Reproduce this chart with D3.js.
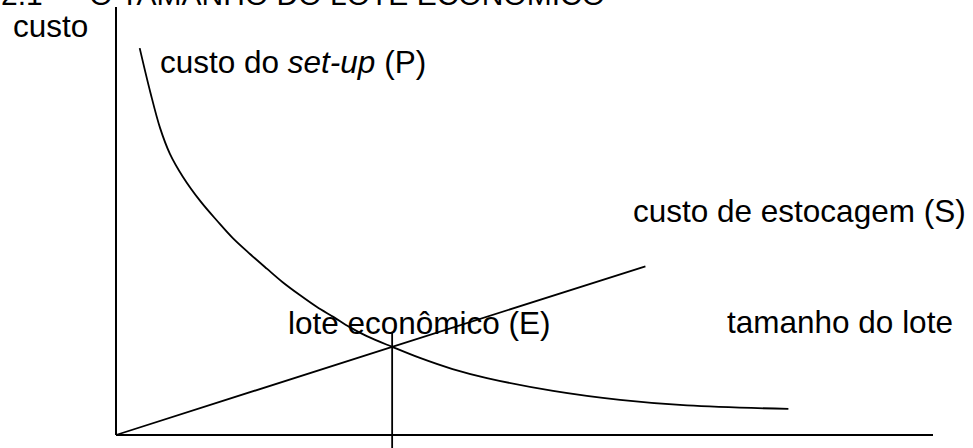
<!DOCTYPE html>
<html>
<head>
<meta charset="utf-8">
<script src="https://cdn.jsdelivr.net/npm/d3@7"></script>
<style>
  body { margin: 0; background: #fff; }
  svg { display: block; }
  text { font-family: "Liberation Sans", Arial, sans-serif; font-size: 31.5px; fill: #000; }
</style>
</head>
<body>
<div id="chart"></div>
<script>
// custo do set-up (P): lot size vs cost
const setupLot  = [2.9, 4.2, 5.4, 6.6, 8.2, 10.3, 12.4, 14.3, 16.4, 18.5, 20.4, 22.5, 24.6, 26.6, 28.6, 30.7, 33.8, 37.2, 41.2, 45.4, 53.5, 61.7, 69.9, 82.3];
const setupCost = [90.4, 80.1, 71.7, 65.7, 60.3, 54.7, 50.0, 46.0, 42.3, 38.8, 35.7, 32.7, 29.9, 27.6, 25.2, 23.1, 20.6, 18.0, 15.4, 13.3, 10.3, 8.2, 6.9, 6.1];
// custo de estocagem (S): straight line from origin
const storageLot  = [0, 33.8, 64.8];
const storageCost = [0, 20.6, 39.4];
// lote econômico (E)
const econLot = 33.8;
const econCost = 20.6;

const title = "2.1 — O TAMANHO DO LOTE ECONÔMICO";
const labels = {
    yAxis: "custo",
    xAxis: "tamanho do lote",
    storage: "custo de estocagem (S)",
    econ: "lote econômico (E)"
};

const width = 973, height = 448;

const svg = d3.select("#chart")
    .append("svg")
    .attr("width", width)
    .attr("height", height);

const xScale = d3.scaleLinear()
    .domain([0, 100])
    .range([116, 933]);
const yScale = d3.scaleLinear()
    .domain([0, 100])
    .range([435, 7]);

// axes as plain lines (no ticks in the original)
svg.append("line")
    .attr("x1", xScale(0)).attr("x2", xScale(0))
    .attr("y1", yScale(0)).attr("y2", yScale(100))
    .attr("stroke", "#000").attr("stroke-width", 2);
svg.append("line")
    .attr("x1", xScale(0)).attr("x2", xScale(100))
    .attr("y1", yScale(0)).attr("y2", yScale(0))
    .attr("stroke", "#000").attr("stroke-width", 2);

// set-up curve
svg.append("path")
    .datum(setupLot.map((x, i) => [x, setupCost[i]]))
    .attr("d", d3.line()
        .x(d => xScale(d[0]))
        .y(d => yScale(d[1]))
        .curve(d3.curveCatmullRom.alpha(0.5)))
    .attr("fill", "none")
    .attr("stroke", "#000")
    .attr("stroke-width", 1.8);

// storage line
svg.append("path")
    .datum(storageLot.map((x, i) => [x, storageCost[i]]))
    .attr("d", d3.line().x(d => xScale(d[0])).y(d => yScale(d[1])))
    .attr("fill", "none")
    .attr("stroke", "#000")
    .attr("stroke-width", 1.8);

// vertical marker at the economic lot
svg.append("line")
    .attr("x1", xScale(econLot)).attr("x2", xScale(econLot))
    .attr("y1", yScale(econCost + 3.5)).attr("y2", yScale(-3.5))
    .attr("stroke", "#000").attr("stroke-width", 1.8);

// texts
svg.append("text").attr("x", 1).attr("y", 5).style("font-size", "30px").text(title);
svg.append("text").attr("x", 13).attr("y", 37).text(labels.yAxis);

const setupLabel = svg.append("text").attr("x", 160).attr("y", 73);
setupLabel.append("tspan").text("custo do ");
setupLabel.append("tspan").attr("font-style", "italic").text("set-up");
setupLabel.append("tspan").text(" (P)");

svg.append("text").attr("x", 633).attr("y", 222).text(labels.storage);
svg.append("text").attr("x", 288).attr("y", 334).text(labels.econ);
svg.append("text").attr("x", 727).attr("y", 333).text(labels.xAxis);
</script>
</body>
</html>
